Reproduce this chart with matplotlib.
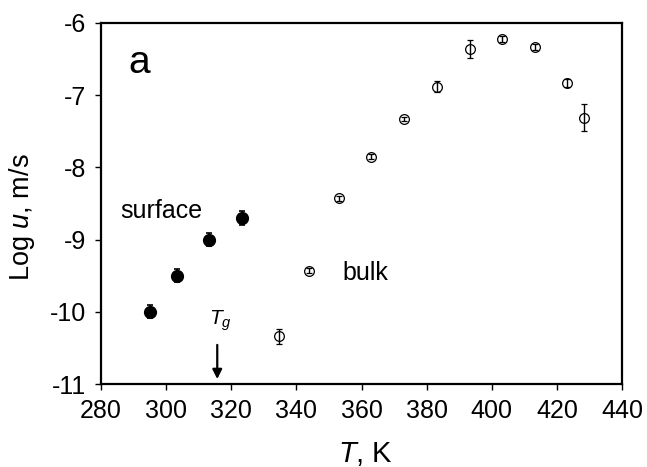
import matplotlib
matplotlib.use("Agg")
import matplotlib.pyplot as plt

plt.rcParams['font.family'] = ['Liberation Sans', 'DejaVu Sans']
plt.rcParams['mathtext.fontset'] = 'custom'
plt.rcParams['mathtext.rm'] = 'Liberation Sans'
plt.rcParams['mathtext.it'] = 'Liberation Sans:italic'

surface_T = [295.1, 303.2, 313.2, 323.3]
surface_logu = [-10.0, -9.5, -9.0, -8.70]
surface_err = [0.09, 0.09, 0.09, 0.1]

bulk_T = [334.6, 344.0, 353.0, 363.0, 373.2, 383.1, 393.2, 403.1, 413.2, 423.1, 428.2]
bulk_logu = [-10.34, -9.43, -8.43, -7.85, -7.33, -6.88, -6.36, -6.22, -6.33, -6.83, -7.31]
bulk_err = [0.1, 0.03, 0.03, 0.03, 0.03, 0.08, 0.13, 0.04, 0.04, 0.06, 0.19]

xticks = [280, 300, 320, 340, 360, 380, 400, 420, 440]
yticks = [-11, -10, -9, -8, -7, -6]

fig = plt.figure(figsize=(6.47, 4.67), dpi=100)
ax = fig.add_axes([101/647, 1-384/467, (622-101)/647, (384-23)/467])

ax.errorbar(surface_T, surface_logu, yerr=surface_err, fmt='o', color='black',
            markersize=8.5, capsize=2.5, elinewidth=1.2, capthick=1.2, zorder=3)
ax.errorbar(bulk_T, bulk_logu, yerr=bulk_err, fmt='o', color='black', mfc='none',
            markersize=7, mew=0.9, capsize=2.5, elinewidth=1.0, capthick=1.0, zorder=3)

ax.set_xlim(280, 440)
ax.set_ylim(-11, -6)
ax.set_xticks(xticks)
ax.set_yticks(yticks)
ax.set_xticklabels([str(v) for v in xticks])
ax.set_yticklabels([str(v) for v in yticks])
ax.tick_params(axis='both', direction='out', length=4.5, width=1, labelsize=18, pad=6)
for s in ax.spines.values():
    s.set_linewidth(1.6)

ax.set_xlabel(r'$\mathit{T}$, K', fontsize=21)
ax.xaxis.set_label_coords(0.507, -0.155)
ax.set_ylabel(r'Log $\mathit{u}$, m/s', fontsize=19.5)
ax.yaxis.set_label_coords(-0.122, 0.461)

ax.text(291.7, -6.69, 'a', fontsize=28, ha='center', va='baseline')
ax.text(285.8, -8.705, 'surface', fontsize=18, ha='left', va='baseline')
ax.text(354.3, -9.56, 'bulk', fontsize=18, ha='left', va='baseline')
ax.text(316.8, -10.18, r'$T_g$', fontsize=15, ha='center', va='baseline')
ax.annotate('', xy=(315.7, -10.97), xytext=(315.7, -10.42),
            arrowprops=dict(arrowstyle='-|>', color='black', lw=1.6, mutation_scale=14))

fig.savefig('out.png', dpi=100)
